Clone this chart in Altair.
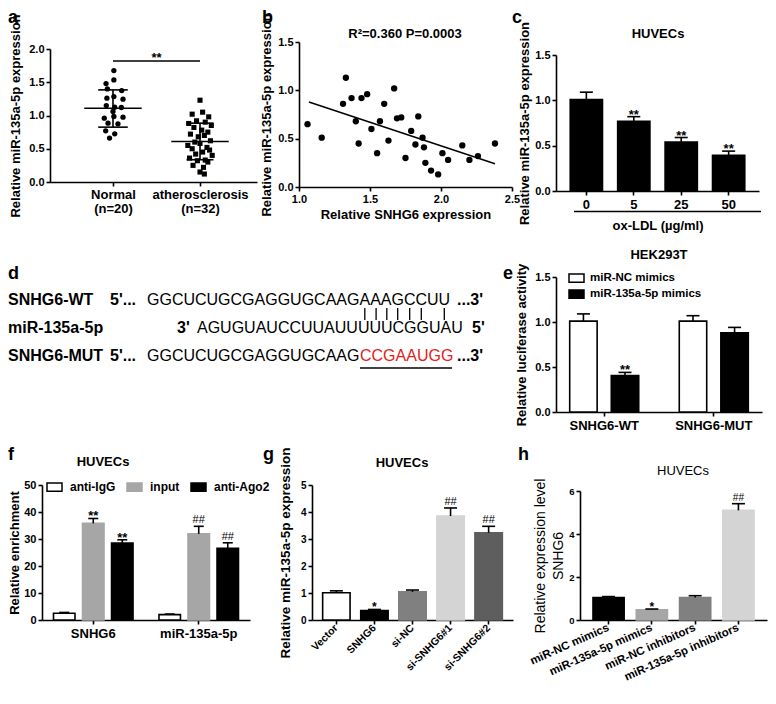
import json
import altair as alt
import pandas as pd

FONT = "Liberation Sans"
M = 8            # page margin
W, H = 760, 688  # whole drawing area (page coordinates minus margin)

# ------------------------------------------------------------------ data
# a : scatter with mean / SD
a_groups = ["Normal", "atherosclerosis"]
a_group_lines = [["Normal", "(n=20)"], ["atherosclerosis", "(n=32)"]]
a_normal = [1.675, 1.535, 1.48, 1.40, 1.375, 1.26, 1.285, 1.245, 1.15, 1.125,
            1.12, 1.06, 0.96, 0.985, 0.975, 0.885, 0.875, 0.77, 0.725, 0.66]
a_normal_jitter = [0.01, 0.01, -0.08, -0.065, 0.10, -0.07, 0.01, 0.115, -0.077, 0.02,
                   0.096, 0.0, -0.10, 0.01, 0.115, -0.057, 0.057, -0.084, 0.02, -0.04]
a_athero = [1.23, 1.05, 1.02, 0.98, 0.92, 0.90, 0.88, 0.85, 0.82, 0.78, 0.75, 0.72,
            0.70, 0.68, 0.62, 0.60, 0.58, 0.55, 0.52, 0.50, 0.48, 0.45, 0.42, 0.40,
            0.36, 0.33, 0.32, 0.30, 0.25, 0.22, 0.15, 0.12]
a_athero_jitter = [0.0, 0.03, -0.09, 0.10, -0.04, 0.06, -0.13, 0.13, -0.07, 0.02, 0.09, -0.11,
                   0.05, -0.02, 0.12, -0.06, 0.0, -0.14, 0.08, -0.09, 0.11, 0.03, -0.05, 0.14,
                   -0.12, 0.06, -0.03, 0.09, -0.08, 0.04, 0.0, 0.05]
a_mean = [1.11, 0.61]
a_sd_low = [0.825, 0.335]
a_sd_high = [1.385, 0.885]
a_sig_level = 1.82
a_sig_text = "**"

# b : correlation
b_snhg6 = [1.33, 1.67, 1.48, 1.44, 1.37, 1.31, 1.60, 1.84, 1.69, 1.72, 1.40, 1.57, 1.06, 1.51,
           1.79, 1.16, 1.87, 1.63, 1.42, 2.38, 1.82, 2.15, 1.88, 1.55, 2.01, 2.26, 1.75, 2.05,
           2.20, 1.89, 1.93, 1.98]
b_mir = [1.13, 1.02, 0.96, 0.92, 0.92, 0.86, 0.86, 0.73, 0.71, 0.72, 0.68, 0.68, 0.65, 0.60,
         0.58, 0.51, 0.51, 0.48, 0.45, 0.45, 0.44, 0.43, 0.41, 0.35, 0.35, 0.32, 0.30, 0.28,
         0.28, 0.25, 0.17, 0.13]
b_fit_x = [1.07, 2.38]
b_fit_y = [0.88, 0.24]
b_stat = "R²=0.360 P=0.0003"

# c : ox-LDL dose
c_dose = ["0", "5", "25", "50"]
c_value = [1.01, 0.77, 0.54, 0.395]
c_error = [0.08, 0.05, 0.05, 0.045]
c_sig = ["", "**", "**", "**"]

# d : sequences
d_rows = ["SNHG6-WT", "miR-135a-5p", "SNHG6-MUT"]
d_wt_seq = "GGCUCUGCGAGGUGCAAGAAAGCCUU"
d_mir_seq = "AGUGUAUCCUUAUUUUUCGGUAU"
d_mut_keep = "GGCUCUGCGAGGUGCAAG"
d_mut_new = "CCGAAUGG"
d_pair_x = [364.8, 376.1, 386.8, 397.7, 409.7, 421.3, 444.3]

# e : luciferase
e_groups = ["SNHG6-WT", "SNHG6-MUT"]
e_series = ["miR-NC mimics", "miR-135a-5p mimics"]
e_value = [1.01, 0.405, 1.01, 0.88]
e_error = [0.08, 0.035, 0.06, 0.06]
e_sig = ["", "**", "", ""]
e_fill = ["white", "black"]

# f : RIP
f_groups = ["SNHG6", "miR-135a-5p"]
f_series = ["anti-IgG", "input", "anti-Ago2"]
f_value = [2.5, 35.8, 28.5, 2.0, 31.9, 26.6]
f_error = [0.3, 1.8, 1.2, 0.2, 2.8, 2.0]
f_sig = ["", "**", "**", "", "##", "##"]
f_fill = ["white", "#a6a6a6", "black"]
f_stroke = ["black", "#a6a6a6", "black"]

# g
g_cats = ["Vector", "SNHG6", "si-NC", "si-SNHG6#1", "si-SNHG6#2"]
g_value = [1.01, 0.35, 1.04, 3.85, 3.23]
g_error = [0.07, 0.04, 0.07, 0.30, 0.24]
g_sig = ["", "*", "", "##", "##"]
g_fill = ["white", "black", "#808080", "#d4d4d4", "#5e5e5e"]
g_stroke = ["black", "black", "#808080", "#d4d4d4", "#5e5e5e"]

# h
h_cats = ["miR-NC mimics", "miR-135a-5p mimics", "miR-NC inhibitors", "miR-135a-5p inhibitors"]
h_value = [1.05, 0.48, 1.05, 5.1]
h_error = [0.04, 0.03, 0.08, 0.31]
h_sig = ["", "*", "", "##"]
h_fill = ["black", "#a6a6a6", "#808080", "#d4d4d4"]


# ------------------------------------------------------------------ helpers
def xq(domain, left, right):
    return alt.Scale(domain=domain, range=[left - M, right - M], nice=False, zero=False)


def yq(domain, bottom, top):
    return alt.Scale(domain=domain, range=[bottom - M, top - M], nice=False, zero=False)


def xb(domain, left, right, pi, po):
    return alt.Scale(domain=domain, range=[left - M, right - M], paddingInner=pi, paddingOuter=po)


def left_axis(x_page, **kw):
    d = dict(orient="left", offset=-(x_page - M), grid=False, labelFlush=False,
             labelOverlap=False, tickSize=4)
    d.update(kw)
    return alt.Axis(**d)


def bottom_axis(y_page, **kw):
    d = dict(orient="bottom", offset=(y_page - M) - H, grid=False, labelFlush=False,
             labelOverlap=False, tickSize=4)
    d.update(kw)
    return alt.Axis(**d)


def note(text, x, y, size=13, weight="bold", align="center", color="black", baseline="middle"):
    return alt.Chart(pd.DataFrame({"t": [text]})).mark_text(
        fontSize=size, fontWeight=weight, align=align, baseline=baseline,
        color=color, font=FONT
    ).encode(x=alt.value(x - M), y=alt.value(y - M), text="t:N")


def hline(x1, x2, y, width=1.6):
    return alt.Chart(pd.DataFrame({"k": [0]})).mark_rule(color="black", strokeWidth=width).encode(
        x=alt.value(x1 - M), x2=alt.value(x2 - M), y=alt.value(y - M))


RECT = "M-1,-0.55H1V0.55H-1Z"


def bar_panel(df, xs, xa, ys, ya, fill_scale, stroke_scale, legend=None, off_scale=None,
              cap=13, star_size=13, hash_size=11):
    X = alt.X("cat:N", scale=xs, axis=xa)
    Yv = alt.Y("val:Q", scale=ys, axis=ya, stack=None)
    Yt = alt.Y("top:Q", scale=ys, axis=ya)
    extra = {}
    key = "cat:N"
    if off_scale is not None:
        extra["xOffset"] = alt.XOffset("ser:N", scale=off_scale)
        key = "ser:N"
    base = alt.Chart(df)
    bars = base.mark_bar(strokeWidth=1.6, opacity=1).encode(
        x=X, y=Yv,
        fill=alt.Fill(key, scale=fill_scale, legend=legend),
        stroke=alt.Stroke(key, scale=stroke_scale, legend=None), **extra)
    err = base.mark_rule(color="black", strokeWidth=1.6).encode(x=X, y=Yv, y2="top:Q", **extra)
    caps = base.mark_tick(color="black", thickness=1.6, size=cap, opacity=1).encode(x=X, y=Yt, **extra)
    stars = base.transform_filter("indexof(datum.sig, '*') >= 0").mark_text(
        fontSize=star_size, fontWeight="bold", baseline="alphabetic", dy=2, font=FONT,
        color="black", fill="black"
    ).encode(x=X, y=Yt, text="sig:N", **extra)
    hashes = base.transform_filter("indexof(datum.sig, '#') >= 0").mark_text(
        fontSize=hash_size, fontWeight="normal", baseline="alphabetic", dy=-3, font=FONT,
        color="black", fill="black"
    ).encode(x=X, y=Yt, text="sig:N", **extra)
    return alt.layer(bars, err, caps, stars, hashes)


# ------------------------------------------------------------------ panel a
a_xs = xq([0.276, 2.655], 50, 257)
a_ys = yq([0, 2], 182, 49)
a_label_expr = "datum.value == 1 ? %s : %s" % (json.dumps(a_group_lines[0]), json.dumps(a_group_lines[1]))
a_xa = bottom_axis(182, values=[1, 2], title=None, labelExpr=a_label_expr, labelFontSize=13,
                   labelLineHeight=14, labelPadding=2)
a_ya = left_axis(50, values=[0, 0.5, 1, 1.5, 2], format=".1f",
                 title="Relative miR-135a-5p expression", titlePadding=6)


def AX(f):
    return alt.X(f, type="quantitative", scale=a_xs, axis=a_xa)


def AY(f):
    return alt.Y(f, type="quantitative", scale=a_ys, axis=a_ya)


df_an = pd.DataFrame({"pos": [1 + j for j in a_normal_jitter], "val": a_normal})
df_aa = pd.DataFrame({"pos": [2 + j for j in a_athero_jitter], "val": a_athero})
df_as = pd.DataFrame({
    "pos": [1, 2], "mean": a_mean, "lo": a_sd_low, "hi": a_sd_high,
    "ml": [0.67, 1.67], "mr": [1.33, 2.33], "cl": [0.83, 1.845], "cr": [1.17, 2.155]})
df_asig = pd.DataFrame({"x1": [1], "x2": [2], "xm": [1.5], "y": [a_sig_level], "t": [a_sig_text]})

panel_a = alt.layer(
    alt.Chart(df_an).mark_circle(size=28, color="black", opacity=1).encode(x=AX("pos"), y=AY("val")),
    alt.Chart(df_aa).mark_square(size=26, color="black", opacity=1).encode(x=AX("pos"), y=AY("val")),
    alt.Chart(df_as).mark_rule(color="black", strokeWidth=1.6).encode(x=AX("ml"), x2="mr", y=AY("mean")),
    alt.Chart(df_as).mark_rule(color="black", strokeWidth=1.6).encode(x=AX("cl"), x2="cr", y=AY("lo")),
    alt.Chart(df_as).mark_rule(color="black", strokeWidth=1.6).encode(x=AX("cl"), x2="cr", y=AY("hi")),
    alt.Chart(df_as).mark_rule(color="black", strokeWidth=1.6).encode(x=AX("pos"), y=AY("lo"), y2="hi"),
    alt.Chart(df_asig).mark_rule(color="black", strokeWidth=1.6).encode(x=AX("x1"), x2="x2", y=AY("y")),
    alt.Chart(df_asig).mark_text(fontSize=13, fontWeight="bold", baseline="alphabetic", dy=1,
                                 font=FONT, color="black").encode(x=AX("xm"), y=AY("y"), text="t:N"),
)

# ------------------------------------------------------------------ panel b
b_xs = xq([1.0, 2.5], 299, 512)
b_ys = yq([0, 1.5], 187, 42)
b_xa = bottom_axis(187, values=[1.0, 1.5, 2.0, 2.5], format=".1f",
                   title="Relative SNHG6 expression", titlePadding=4)
b_ya = left_axis(299, values=[0, 0.5, 1.0, 1.5], format=".1f",
                 title="Relative miR-135a-5p expression", titlePadding=4)
df_b = pd.DataFrame({"sx": b_snhg6, "my": b_mir})
df_bf = pd.DataFrame({"sx": b_fit_x, "my": b_fit_y})
BX = alt.X("sx:Q", scale=b_xs, axis=b_xa)
BY = alt.Y("my:Q", scale=b_ys, axis=b_ya)
panel_b = alt.layer(
    alt.Chart(df_b).mark_circle(size=40, color="black", opacity=1).encode(x=BX, y=BY),
    alt.Chart(df_bf).mark_line(color="black", strokeWidth=1.5).encode(x=BX, y=BY),
)

# ------------------------------------------------------------------ panel c
df_c = pd.DataFrame({"cat": c_dose, "val": c_value,
                     "top": [v + e for v, e in zip(c_value, c_error)], "sig": c_sig})
panel_c = bar_panel(
    df_c,
    xb(c_dose, 556, 759, 0.32, 0.30),
    bottom_axis(191, title="ox-LDL (µg/ml)", labelAngle=0, labelFontSize=13, labelPadding=3,
                titlePadding=8),
    yq([0, 1.5], 191, 55),
    left_axis(556, values=[0, 0.5, 1.0, 1.5], format=".1f",
              title="Relative miR-135a-5p expression", titlePadding=3),
    alt.Scale(domain=c_dose, range=["black"] * 4),
    alt.Scale(domain=c_dose, range=["black"] * 4),
)

# ------------------------------------------------------------------ panel e
df_e = pd.DataFrame({
    "cat": [g for g in e_groups for _ in e_series],
    "ser": e_series * len(e_groups),
    "val": e_value, "top": [v + e for v, e in zip(e_value, e_error)], "sig": e_sig})
panel_e = bar_panel(
    df_e,
    xb(e_groups, 556, 762, 0.37, 0.125),
    bottom_axis(412, title=None, labelAngle=0, labelFontSize=13, labelPadding=3),
    yq([0, 1.5], 412, 277),
    left_axis(556, values=[0, 0.5, 1.0, 1.5], format=".1f",
              title="Relative luciferase activity", titlePadding=6),
    alt.Scale(domain=e_series, range=e_fill),
    alt.Scale(domain=e_series, range=["black", "black"]),
    legend=alt.Legend(orient="none", legendX=568 - M, legendY=277 - M - 7.5, title=None,
                      direction="vertical", symbolType=RECT, symbolSize=225,
                      symbolStrokeColor="black", symbolStrokeWidth=1.5, symbolOpacity=1,
                      labelFont=FONT, labelFontSize=11.5, labelFontWeight="bold",
                      labelColor="black", labelOffset=5, rowPadding=0, padding=0),
    off_scale=alt.Scale(domain=e_series, paddingInner=0.34, paddingOuter=0),
)

# ------------------------------------------------------------------ panel f
df_f = pd.DataFrame({
    "cat": [g for g in f_groups for _ in f_series],
    "ser": f_series * len(f_groups),
    "val": f_value, "top": [v + e for v, e in zip(f_value, f_error)], "sig": f_sig})
panel_f = bar_panel(
    df_f,
    xb(f_groups, 42, 250, 0.246, 0.109),
    bottom_axis(620, title=None, labelAngle=0, labelFontSize=13, labelPadding=3),
    yq([0, 50], 620, 485),
    left_axis(42, values=[0, 10, 20, 30, 40, 50], title="Relative enrichment",
              titlePadding=2, titleFontSize=13),
    alt.Scale(domain=f_series, range=f_fill),
    alt.Scale(domain=f_series, range=f_stroke),
    legend=alt.Legend(orient="none", legendX=46 - M, legendY=486 - M - 7.5, title=None,
                      direction="horizontal", symbolType=RECT, symbolSize=225,
                      symbolStrokeColor="black", symbolStrokeWidth=1.5, symbolOpacity=1,
                      labelFont=FONT, labelFontSize=12, labelFontWeight="bold",
                      labelColor="black", labelOffset=7, columnPadding=8, padding=0),
    off_scale=alt.Scale(domain=f_series, paddingInner=0.26, paddingOuter=0),
    cap=10,
)

# ------------------------------------------------------------------ panel g
df_g = pd.DataFrame({"cat": g_cats, "val": g_value,
                     "top": [v + e for v, e in zip(g_value, g_error)], "sig": g_sig})
panel_g = bar_panel(
    df_g,
    xb(g_cats, 312, 513, 0.28, 0.28),
    bottom_axis(620, title=None, labelAngle=-45, labelAlign="right", labelBaseline="middle",
                labelFontSize=10.5, labelPadding=2),
    yq([0, 5], 620, 485),
    left_axis(312, values=[0, 1, 2, 3, 4, 5], title="Relative miR-135a-5p expression",
              labelFontSize=10, titlePadding=8, titleFontSize=13.5),
    alt.Scale(domain=g_cats, range=g_fill),
    alt.Scale(domain=g_cats, range=g_stroke),
    star_size=12,
)

# ------------------------------------------------------------------ panel h
df_h = pd.DataFrame({"cat": h_cats, "val": h_value,
                     "top": [v + e for v, e in zip(h_value, h_error)], "sig": h_sig})
panel_h = bar_panel(
    df_h,
    xb(h_cats, 580, 767, 0.28, 0.30),
    bottom_axis(620, title=None, labelAngle=-24, labelAlign="right", labelBaseline="middle",
                labelFontSize=11.5, labelPadding=3),
    yq([0, 6], 620, 491),
    left_axis(580, values=[0, 2, 4, 6], title=["Relative expression level", "SNHG6"],
              labelFontSize=9.5, titlePadding=3, titleFontSize=14, titleFontWeight="normal",
              titleLineHeight=18),
    alt.Scale(domain=h_cats, range=h_fill),
    alt.Scale(domain=h_cats, range=h_fill),
    star_size=12, hash_size=10,
)

# ------------------------------------------------------------------ panel d (sequence diagram)
d_y = [300, 328, 356]
page = alt.Scale(domain=[0, 776], range=[-M, 776 - M], nice=False, zero=False)
pagey = alt.Scale(domain=[0, 704], range=[-M, 704 - M], nice=False, zero=False)
df_pairs = pd.DataFrame({"x": d_pair_x, "y1": [d_y[0] + 8] * len(d_pair_x),
                         "y2": [d_y[1] - 8] * len(d_pair_x)})
pairs = alt.Chart(df_pairs).mark_rule(color="black", strokeWidth=1.3).encode(
    x=alt.X("x:Q", scale=page, axis=None),
    y=alt.Y("y1:Q", scale=pagey, axis=None), y2="y2:Q")

notes = [
    note("a", 8, 9, 18, align="left", baseline="top"),
    note("b", 262, 9, 18, align="left", baseline="top"),
    note("c", 512, 9, 18, align="left", baseline="top"),
    note("d", 8, 274, 18, align="left"), note("e", 503, 274, 18, align="left"),
    note("f", 8, 455, 18, align="left"), note("g", 263, 455, 18, align="left"),
    note("h", 518, 455, 18, align="left"),
    note(b_stat, 405, 34, 13),
    note("HUVECs", 658, 34, 13),
    note("HEK293T", 659, 255, 13),
    note("HUVECs", 103, 462, 13),
    note("HUVECs", 402, 463, 13),
    note("HUVECs", 683, 471, 13, "normal"),
    hline(574, 761, 211.5),
    # d rows
    note(d_rows[0], 8, d_y[0], 16, align="left"),
    note("5'...", 110, d_y[0], 16, align="left"),
    note(d_wt_seq, 147, d_y[0], 16, "normal", align="left"),
    note("...3'", 457, d_y[0], 16, align="left"),
    note(d_rows[1], 8, d_y[1], 16, align="left"),
    note("3'", 177, d_y[1], 16, align="left"),
    note(d_mir_seq, 197, d_y[1], 16, "normal", align="left"),
    note("5'", 472, d_y[1], 16, align="left"),
    note(d_rows[2], 8, d_y[2], 16, align="left"),
    note("5'...", 110, d_y[2], 16, align="left"),
    note(d_mut_keep, 147, d_y[2], 16, "normal", align="left"),
    note(d_mut_new, 360, d_y[2], 16, "normal", align="left", color="#e3211c"),
    note("...3'", 457, d_y[2], 16, align="left"),
    hline(360, 452, d_y[2] + 12, 1.4),
]

chart = alt.layer(
    panel_a, panel_b, panel_c, panel_e, panel_f, panel_g, panel_h, pairs, *notes
).resolve_scale(
    x="independent", y="independent", xOffset="independent",
    fill="independent", stroke="independent"
).resolve_axis(
    x="independent", y="independent"
).resolve_legend(
    fill="independent", stroke="independent"
).properties(
    width=W, height=H, padding=0, autosize=alt.AutoSizeParams(type="none")
).configure_axis(
    domainColor="black", domainWidth=1.6, tickColor="black", tickWidth=1.6,
    labelFont=FONT, labelFontWeight="bold", labelColor="black", labelFontSize=11,
    titleFont=FONT, titleFontWeight="bold", titleColor="black", titleFontSize=13,
).configure_view(stroke=None).configure_text(font=FONT)

chart.save("out.html", embed_options={"renderer": "svg", "actions": False})
